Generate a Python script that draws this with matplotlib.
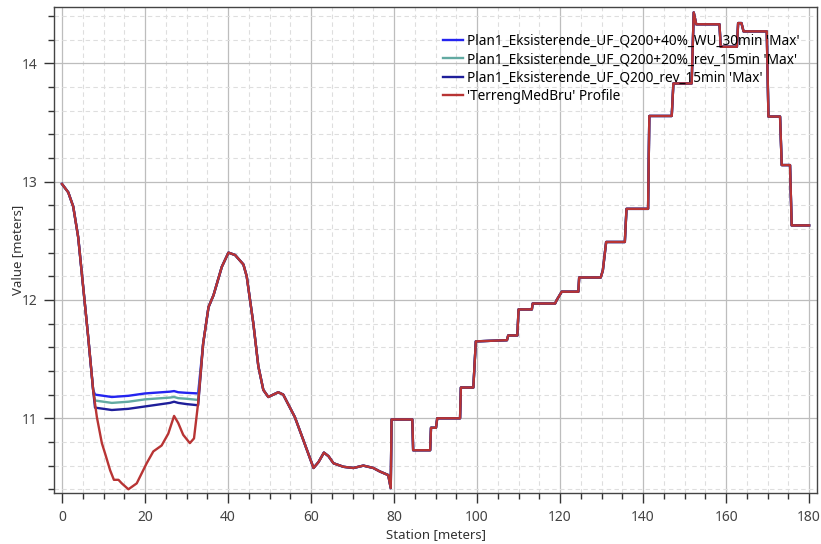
import numpy as np
import matplotlib.pyplot as plt
from matplotlib.ticker import MultipleLocator

plt.rcParams['font.family'] = ['Noto Sans', 'DejaVu Sans']

# terrain profile 'TerrengMedBru'
station = [0, 1.5, 2.7, 3.9, 5.1, 6.3, 7.5, 8.4, 9.6, 10.4, 11.6, 12.5, 13.6, 14.4,
           16.0, 18.0, 20.4, 22.0, 24.0, 25.6, 27.0, 28.0, 29.2, 30.8, 31.8, 32.8,
           34.0, 35.3, 36.5, 38.5, 40.1, 41.7, 43.7, 44.5, 46.1, 47.3, 48.5, 49.7,
           52.1, 53.3, 56.1, 58.1, 60.6, 61.8, 63.1, 64.2, 65.4, 67.8, 70.2, 72.6,
           75.0, 76.6, 78.6, 79.2, 79.4, 84.4, 84.6, 88.7, 88.9, 90.1, 90.4, 95.9,
           96.1, 99.1, 99.7, 107.2, 107.5, 109.7, 110.0, 113.2, 113.4, 118.8, 119.2,
           120.4, 124.4, 124.6, 129.8, 130.3, 131.1, 135.6, 136.0, 141.2, 141.5,
           146.9, 147.3, 151.7, 152.2, 152.8, 158.4, 158.7, 162.6, 162.9, 163.7,
           164.2, 169.8, 170.2, 173.0, 173.4, 175.4, 175.8, 180.0]
terrain = [12.98, 12.91, 12.79, 12.53, 12.11, 11.69, 11.24, 11.01, 10.79, 10.70,
           10.56, 10.48, 10.48, 10.45, 10.40, 10.45, 10.62, 10.72, 10.77, 10.87,
           11.02, 10.96, 10.86, 10.79, 10.83, 11.13, 11.63, 11.94, 12.04, 12.28,
           12.40, 12.38, 12.30, 12.20, 11.80, 11.44, 11.24, 11.18, 11.22, 11.20,
           11.01, 10.82, 10.58, 10.63, 10.71, 10.68, 10.62, 10.59, 10.58, 10.60,
           10.58, 10.55, 10.52, 10.41, 10.99, 10.99, 10.73, 10.73, 10.92, 10.92,
           11.00, 11.00, 11.26, 11.26, 11.65, 11.66, 11.70, 11.70, 11.92, 11.92,
           11.97, 11.97, 12.00, 12.07, 12.07, 12.19, 12.19, 12.25, 12.49, 12.49,
           12.77, 12.77, 13.555, 13.555, 13.83, 13.83, 14.43, 14.33, 14.33, 14.14,
           14.14, 14.34, 14.34, 14.27, 14.27, 13.55, 13.55, 13.14, 13.14, 12.63,
           12.63]

# water surface in the pond, stations 8-33 (elsewhere equal to terrain)
pond_station = [7.95, 10, 12, 14, 16, 18, 20, 22, 24, 26, 27, 28, 30, 32.8]
wse_40 = [11.20, 11.19, 11.18, 11.185, 11.19, 11.20, 11.21, 11.215, 11.22, 11.225,
          11.23, 11.22, 11.215, 11.21]
wse_20 = [11.15, 11.14, 11.13, 11.135, 11.14, 11.15, 11.16, 11.165, 11.17, 11.175,
          11.18, 11.17, 11.165, 11.155]
wse_q200 = [11.09, 11.08, 11.07, 11.075, 11.08, 11.09, 11.10, 11.11, 11.12, 11.13,
            11.14, 11.13, 11.12, 11.11]

labels = ["Plan1_Eksisterende_UF_Q200+40%_WU_30min 'Max'",
          "Plan1_Eksisterende_UF_Q200+20%_rev_15min 'Max'",
          "Plan1_Eksisterende_UF_Q200_rev_15min 'Max'",
          "'TerrengMedBru' Profile"]
colors = ['#2424f0', '#62aaa2', '#1e1e9a', '#b83434']


def full_wse(wse):
    st = np.array(station)
    tr = np.array(terrain)
    left = st < pond_station[0]
    right = st > pond_station[-1]
    x = np.concatenate([st[left], pond_station, st[right]])
    y = np.concatenate([tr[left], wse, tr[right]])
    return x, y


fig = plt.figure(figsize=(8.21, 5.44), dpi=100)
ax = fig.add_axes([54 / 821, 1 - 493.3 / 544, 763 / 821, 486.3 / 544])

for wse, c, lab in zip([wse_40, wse_20, wse_q200], colors[:3], labels[:3]):
    x, y = full_wse(wse)
    ax.plot(x, y, color=c, lw=1.7, label=lab, zorder=3)
ax.plot(station, terrain, color=colors[3], lw=1.7, label=labels[3], zorder=4)

ax.set_xlim(-1.93, 181.9)
ax.set_ylim(10.366, 14.476)
ax.xaxis.set_major_locator(MultipleLocator(20))
ax.xaxis.set_minor_locator(MultipleLocator(5))
ax.yaxis.set_major_locator(MultipleLocator(1))
ax.yaxis.set_minor_locator(MultipleLocator(0.2))
ax.grid(which='major', color='#bdbdbd', lw=0.9, ls='-')
ax.grid(which='minor', color='#dedede', lw=0.8, ls=(0, (4, 3)))
ax.set_axisbelow(True)

ax.tick_params(which='major', direction='out', length=7, width=1, color='#333333',
               labelsize=10, labelcolor='#444444', pad=5)
ax.tick_params(which='minor', direction='out', length=4, width=1, color='#333333')
for s in ax.spines.values():
    s.set_color('#444444')
    s.set_linewidth(1)

ax.set_xlabel('Station [meters]', fontsize=9.5, color='#333333', labelpad=2)
ax.set_ylabel('Value [meters]', fontsize=9.5, color='#333333')
ax.yaxis.set_label_coords(-0.039, 0.5)

ax.legend(loc='upper left', bbox_to_anchor=(436 / 821, 1 - 27 / 544),
          bbox_transform=fig.transFigure, frameon=False, fontsize=9.8,
          handlelength=1.5, handletextpad=0.3, labelspacing=0.25, borderpad=0)

fig.savefig('out.png', dpi=100)
